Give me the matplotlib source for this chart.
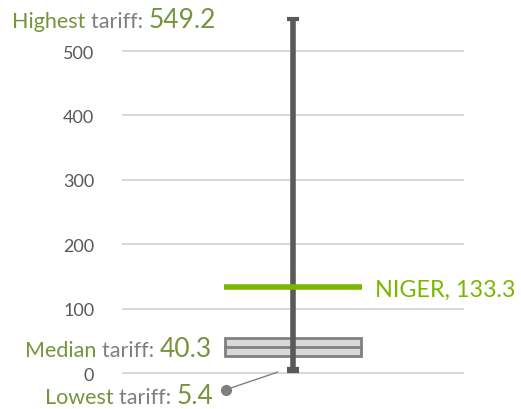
import matplotlib.pyplot as plt

# tariff summary values
highest = 549.2
lowest = 5.4
median = 40.3
q1 = 26.4
q3 = 54.3
country = 'NIGER'
country_value = 133.3
yticks = [0, 100, 200, 300, 400, 500]

OLIVE = '#77933C'
GRAY_TXT = '#7F7F7F'
LIME = '#7AB800'
DARK = '#595959'

plt.rcParams['font.family'] = ['Lato', 'DejaVu Sans']

fig = plt.figure(figsize=(5.21, 4.1), dpi=100)
ax = fig.add_axes([122 / 521, 0.0563, 342 / 521, 0.911])
ax.set_xlim(0, 1)
ax.set_ylim(-20, 560)

for s in ax.spines.values():
    s.set_visible(False)
ax.set_yticks(yticks)
ax.set_yticklabels([str(t) for t in yticks], color=DARK, fontsize=13)
ax.tick_params(axis='y', length=0, pad=20)
ax.set_xticks([])
for t in yticks:
    ax.axhline(t, color='#D9D9D9', lw=1.5, zorder=0)

xc = 0.5
hw = 0.2
# box
ax.bar(xc, q3 - q1, bottom=q1, width=2 * hw, color='#D9D9D9',
       edgecolor='#808080', linewidth=2, zorder=2)
ax.plot([xc - hw, xc + hw], [median, median], color='#808080', lw=2, zorder=3)
# whisker
ax.plot([xc, xc], [lowest, highest], color=DARK, lw=4, zorder=4,
        solid_capstyle='butt')
ax.plot([xc - 0.018, xc + 0.018], [highest, highest], color=DARK, lw=3,
        zorder=4, solid_capstyle='butt')
ax.plot([xc - 0.018, xc + 0.018], [lowest - 1, lowest - 1], color=DARK, lw=4.5,
        zorder=4, solid_capstyle='butt')
# country line
ax.plot([xc - hw - 0.003, xc + hw + 0.003], [country_value, country_value],
        color=LIME, lw=4, zorder=5, solid_capstyle='butt')
ax.text(xc + hw + 0.04, country_value - 3, f'{country}, {country_value}',
        color=LIME, fontsize=16.8, va='center', ha='left')

# leader line for lowest
ax.plot([0.303, 0.455], [-26, lowest - 4], color='#7F7F7F', lw=1, clip_on=False)
ax.plot([0.303], [-26], 'o', color='#7F7F7F', ms=7, clip_on=False)


def label(x0, ybase, parts):
    prev = None
    for txt, col, size in parts:
        if prev is None:
            prev = fig.text(x0 / 521, ybase / 410, txt, color=col, fontsize=size,
                            va='baseline', ha='left')
        else:
            prev = ax.annotate(txt, xy=(1, ybase), xycoords=(prev, 'figure pixels'),
                               color=col, fontsize=size, va='baseline', ha='left',
                               annotation_clip=False)


label(12, 382, [('Highest ', OLIVE, 15.5), ('tariff: ', GRAY_TXT, 15.5),
                (f'{highest}', OLIVE, 19)])
label(25, 53, [('Median ', OLIVE, 15.5), ('tariff: ', GRAY_TXT, 15.5),
               (f'{median}', OLIVE, 19)])
label(45, 6, [('Lowest ', OLIVE, 15.5), ('tariff: ', GRAY_TXT, 15.5),
              (f'{lowest}', OLIVE, 19)])

fig.savefig('out.png', dpi=100)
